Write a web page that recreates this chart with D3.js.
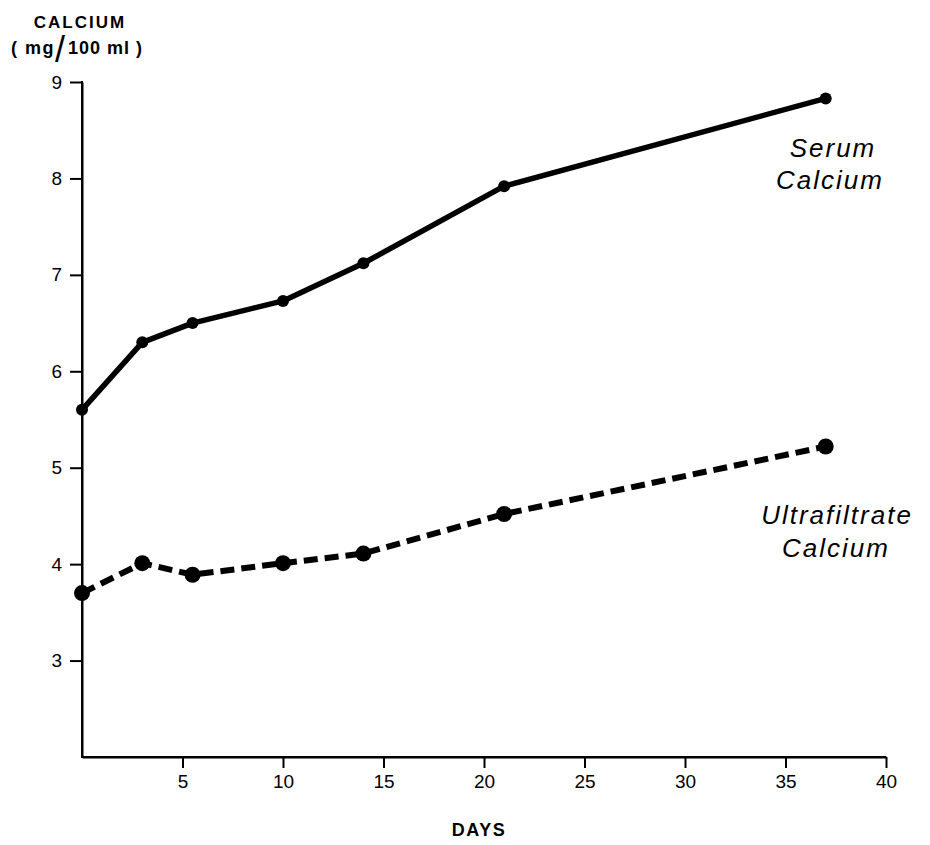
<!DOCTYPE html>
<html><head><meta charset="utf-8">
<script src="https://cdn.jsdelivr.net/npm/d3@7"></script>
<style>body{margin:0;background:#fff}svg{display:block}</style>
</head><body>
<script>
const days = [0, 3, 5.5, 10, 14, 21, 37];
const serum = [5.6, 6.3, 6.5, 6.73, 7.12, 7.92, 8.83];
const ultra = [3.7, 4.01, 3.89, 4.01, 4.11, 4.52, 5.22];
const xTicks = [5, 10, 15, 20, 25, 30, 35, 40];
const yTicks = [3, 4, 5, 6, 7, 8, 9];

const W = 930, H = 845;
const svg = d3.select("body").append("svg").attr("width", W).attr("height", H);
const x = d3.scaleLinear().domain([0, 40]).range([82, 886]);
const y = d3.scaleLinear().domain([2, 9]).range([757, 82]);
const font = "'Liberation Sans', Arial, sans-serif";

// axes
const xAxis = svg.append("g").attr("transform", `translate(0,${y(2)})`)
  .call(d3.axisBottom(x).tickValues(xTicks).tickFormat(d3.format("d")).tickSize(11).tickPadding(7).tickSizeOuter(0));
const yAxis = svg.append("g").attr("transform", `translate(${x(0)},0)`)
  .call(d3.axisLeft(y).tickValues(yTicks).tickFormat(d3.format("d")).tickSize(12).tickPadding(8).tickSizeOuter(0));
[xAxis, yAxis].forEach(g => {
  g.selectAll("path").attr("stroke", "#000").attr("stroke-width", 2);
  g.selectAll("line").attr("stroke", "#000").attr("stroke-width", 2);
  g.selectAll("text").attr("fill", "#000").style("font-family", font).style("font-size", "19px");
});
svg.append("line").attr("x1", x(0) - 1).attr("x2", x(40)).attr("y1", y(2)).attr("y2", y(2)).attr("stroke", "#000").attr("stroke-width", 2);
svg.append("line").attr("x1", x(0)).attr("x2", x(0)).attr("y1", y(9) - 1).attr("y2", y(2) + 1).attr("stroke", "#000").attr("stroke-width", 2);

const line = d3.line().x(d => x(d[0])).y(d => y(d[1]));
const sData = days.map((d, i) => [d, serum[i]]);
const uData = days.map((d, i) => [d, ultra[i]]);

svg.append("path").datum(sData).attr("d", line).attr("fill", "none")
  .attr("stroke", "#000").attr("stroke-width", 5.5).attr("stroke-linejoin", "round");
svg.selectAll(".sd").data(sData).enter().append("circle")
  .attr("cx", d => x(d[0])).attr("cy", d => y(d[1])).attr("r", 6).attr("fill", "#000");

svg.append("path").datum(uData).attr("d", line).attr("fill", "none")
  .attr("stroke", "#000").attr("stroke-width", 6).attr("stroke-dasharray", "14 7");
svg.selectAll(".ud").data(uData).enter().append("circle")
  .attr("cx", d => x(d[0])).attr("cy", d => y(d[1])).attr("r", 8).attr("fill", "#000");

// y label
svg.append("text").attr("x", 80).attr("y", 28).attr("text-anchor", "middle")
  .style("font-family", font).style("font-weight", "bold").style("font-size", "17px")
  .style("letter-spacing", "2px").text("CALCIUM");
const yl = svg.append("g").style("font-family", font).style("font-weight", "bold").style("font-size", "18px");
yl.append("text").attr("x", 55).attr("y", 54).attr("text-anchor", "end").style("letter-spacing", "1.5px").text("( mg");
yl.append("text").attr("x", 60).attr("y", 62).attr("text-anchor", "middle").style("font-size", "36px").style("font-weight", "normal").text("/");
yl.append("text").attr("x", 68).attr("y", 54).attr("text-anchor", "start").style("letter-spacing", "1px").text("100 ml )");

// x label
svg.append("text").attr("x", 479).attr("y", 836).attr("text-anchor", "middle")
  .style("font-family", font).style("font-weight", "bold").style("font-size", "18px")
  .style("letter-spacing", "1.5px").text("DAYS");

// series labels
const lab = svg.append("g").style("font-family", font).style("font-style", "italic")
  .style("font-size", "26px").style("letter-spacing", "2px").attr("text-anchor", "middle");
lab.append("text").attr("x", 833).attr("y", 157).text("Serum");
lab.append("text").attr("x", 830).attr("y", 189).text("Calcium");
lab.append("text").attr("x", 837).attr("y", 524).text("Ultrafiltrate");
lab.append("text").attr("x", 836).attr("y", 557).text("Calcium");
</script>
</body></html>
